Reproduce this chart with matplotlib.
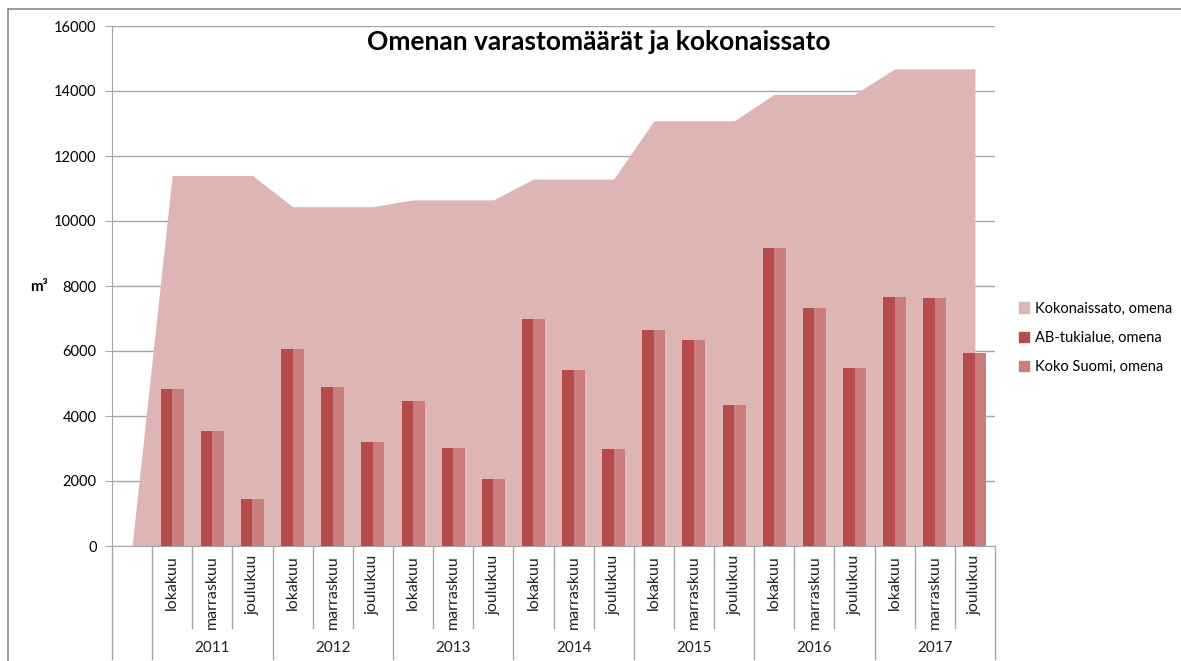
import matplotlib.pyplot as plt
from matplotlib.patches import Patch
from matplotlib.lines import Line2D
import numpy as np

plt.rcParams['font.family'] = ['Lato', 'DejaVu Sans']

# data
years = ['2011', '2012', '2013', '2014', '2015', '2016', '2017']
months = ['lokakuu', 'marraskuu', 'joulukuu']
total_harvest = [11400, 10440, 10650, 11290, 13080, 13900, 14680]   # Kokonaissato, per year
ab_region = [4840, 3550, 1450,
             6060, 4890, 3200,
             4460, 3010, 2060,
             7000, 5415, 2985,
             6650, 6340, 4340,
             9180, 7330, 5470,
             7650, 7620, 5930]
whole_finland = list(ab_region)   # Koko Suomi equal to AB-tukialue in the chart

area_col = '#DDB5B5'
dark_col = '#B54B4A'
light_col = '#CB7D7D'
grid_col = '#A6A6A6'

# first category is an empty slot where the area starts from zero
area_vals = [0] + [v for v in total_harvest for _ in months]
n = len(area_vals)
x = np.arange(n)
bar_x = x[1:]

fig = plt.figure(figsize=(11.81, 6.61), dpi=100)
ax = fig.add_axes([112 / 1181, 115 / 661, 883 / 1181, 520 / 661])

ax.fill_between(x, area_vals, 0, color=area_col, lw=0, zorder=1)
w = 0.287
ax.bar(bar_x - w / 2, ab_region, width=w, color=dark_col, zorder=2)
ax.bar(bar_x + w / 2, whole_finland, width=w, color=light_col, zorder=2)

ax.set_xlim(-0.5, n - 0.5)
ax.set_ylim(0, 16000)
ax.set_yticks(np.arange(0, 16001, 2000))
ax.set_yticklabels([str(v) for v in range(0, 16001, 2000)], fontsize=10.5)
ax.yaxis.grid(True, color=grid_col, lw=1, zorder=0)
ax.set_axisbelow(True)
ax.tick_params(axis='y', length=5, color=grid_col, pad=6)
ax.set_xticks([])
for s in ['top', 'right']:
    ax.spines[s].set_visible(False)
ax.spines['left'].set_color(grid_col)
ax.spines['bottom'].set_color(grid_col)

# two-level category axis
trans = ax.get_xaxis_transform()
ax.plot([-0.5, -0.5], [0, -0.217], transform=trans, color=grid_col, lw=1, clip_on=False)
for i in range(n):
    right = i + 0.5
    if i == 0 or i % 3 == 0:
        ax.plot([right, right], [0, -0.217], transform=trans, color=grid_col, lw=1, clip_on=False)
    else:
        ax.plot([right, right], [0, -0.158], transform=trans, color=grid_col, lw=1, clip_on=False)
for i, xi in enumerate(bar_x):
    ax.text(xi, -0.017, months[i % 3], transform=trans, rotation=90,
            ha='center', va='top', fontsize=11.5, color='#222222')
for j, yr in enumerate(years):
    ax.text(1 + 3 * j + 1, -0.196, yr, transform=trans, ha='center', va='center',
            fontsize=11, color='#222222')

fig.text(39 / 1181, 1 - 287 / 661, 'm³', fontsize=11, fontweight='bold', ha='center', va='center')
fig.text(599 / 1181, 1 - 42 / 661, 'Omenan varastomäärät ja kokonaissato',
         fontsize=19, fontweight='bold', ha='center', va='center')

handles = [Patch(color=area_col, label='Kokonaissato, omena'),
           Patch(color=dark_col, label='AB-tukialue, omena'),
           Patch(color=light_col, label='Koko Suomi, omena')]
fig.legend(handles=handles, loc='center left', bbox_to_anchor=(1006 / 1181, 1 - 338 / 661),
           frameon=False, fontsize=10.5, handlelength=0.7, handleheight=0.7,
           handletextpad=0.4, labelspacing=1.05)

# outer chart border (left and top edges only are visible)
fig.add_artist(Line2D([7.5 / 1181, 7.5 / 1181], [0, 1 - 8.5 / 661], transform=fig.transFigure,
                      color='#8C8C8C', lw=1.2))
fig.add_artist(Line2D([7.5 / 1181, 1], [1 - 8.5 / 661, 1 - 8.5 / 661], transform=fig.transFigure,
                      color='#8C8C8C', lw=1.2))

fig.savefig('out.png', dpi=100)
